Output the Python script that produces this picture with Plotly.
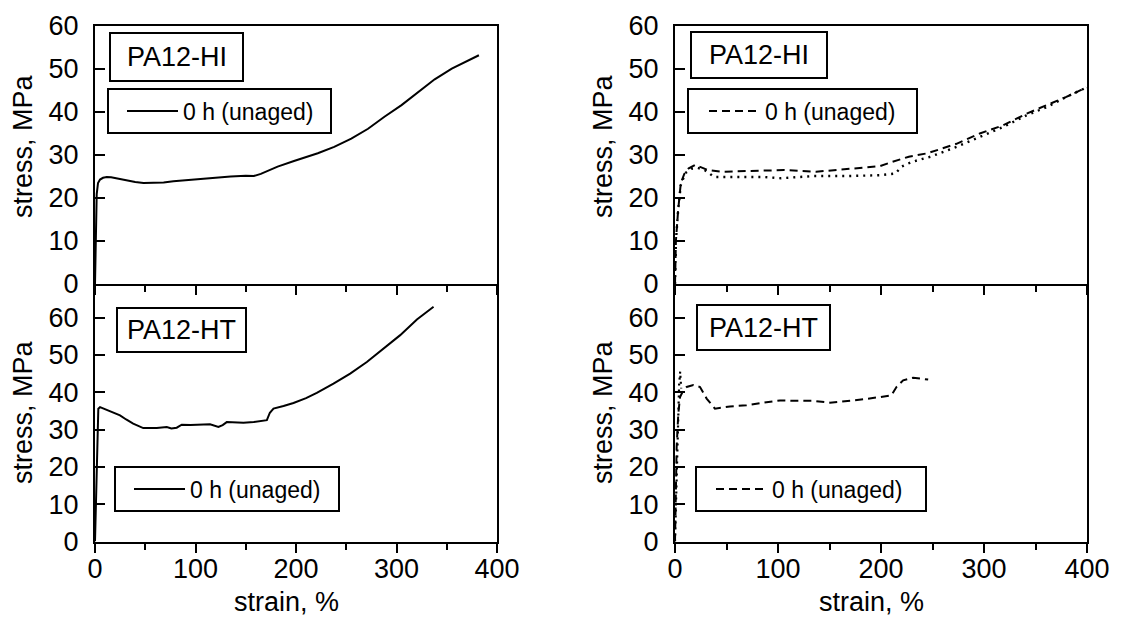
import plotly.graph_objects as go

W, H = 1126, 622
FONT = "Liberation Sans, Arial, sans-serif"

# ---------------- data ----------------
panel_labels = ["PA12-HI", "PA12-HT", "PA12-HI", "PA12-HT"]
series_name = "0 h (unaged)"
x_title = "strain, %"
y_title = "stress, MPa"
x_tickvals = [0, 100, 200, 300, 400]
y_tickvals = [0, 10, 20, 30, 40, 50, 60]

# top-left: PA12-HI, solid
hi_solid_strain = [0, 0.8, 1.7, 3, 5, 8, 11.7, 16, 21.7, 30, 40, 48.3, 58, 68.3, 78, 88.3, 100, 110,
                   121.7, 135, 150, 158, 165, 171.7, 181.7, 198, 210, 221.7, 238, 255, 271.7, 288,
                   305, 321.7, 338, 355, 370, 382]
hi_solid_stress = [0, 10, 20.9, 23.5, 24.3, 24.7, 24.9, 24.8, 24.5, 24.1, 23.7, 23.5, 23.5, 23.6, 23.9,
                   24.1, 24.4, 24.6, 24.8, 25.0, 25.2, 25.1, 25.6, 26.3, 27.3, 28.6, 29.5, 30.4, 31.9,
                   33.8, 36.1, 38.9, 41.6, 44.6, 47.6, 50.1, 51.8, 53.2]

# bottom-left: PA12-HT, solid
ht_solid_strain = [0, 1.5, 3.3, 5, 11.6, 18, 24.9, 31, 38, 48, 55, 61.4, 71.4, 76, 81.3, 86.3, 95,
                   104.6, 114.5, 122.8, 127, 131.1, 140, 147.7, 158, 167.6, 171, 174, 177.6, 187.6,
                   197.5, 210, 220.7, 237.3, 253.9, 270.5, 287.1, 303.7, 320.3, 336.9]
ht_solid_stress = [0, 18, 35.6, 36.0, 35.2, 34.6, 33.8, 32.7, 31.6, 30.4, 30.3, 30.4, 30.7, 30.3,
                   30.5, 31.3, 31.2, 31.3, 31.4, 30.7, 31.2, 32.0, 31.9, 31.8, 32.0, 32.3, 32.5,
                   34.5, 35.6, 36.3, 37.1, 38.4, 39.8, 42.3, 45.0, 48.1, 51.7, 55.3, 59.5, 62.9]

# top-right: PA12-HI, dashed (legend) and dotted
hi_dash_strain = [0, 0.9, 3, 5.6, 9, 13.3, 19.5, 25, 31.9, 45.8, 75, 106, 137, 168, 199, 211, 227,
                  245, 273.3, 295.9, 318.5, 341.1, 360.5, 379.9, 399.4]
hi_dash_stress = [0, 10.1, 17, 23.4, 25.6, 26.9, 27.7, 27.2, 26.5, 26.1, 26.3, 26.5, 26.1, 26.7,
                  27.4, 28.4, 29.6, 30.4, 32.6, 35.0, 36.9, 39.6, 41.6, 43.5, 45.7]
hi_dot_strain = [0, 0.9, 3, 5.6, 10, 16, 22, 28.8, 38, 53.4, 85.7, 103, 134.2, 166.5, 199, 214,
                 220, 230, 248, 273.3, 295.9, 318.5, 341.1, 360.5, 379.9, 399.4]
hi_dot_stress = [0, 10, 17, 23, 25.8, 26.8, 27.0, 26.5, 24.9, 24.9, 24.9, 24.6, 25.1, 25.1, 25.3,
                 25.7, 27.3, 28.4, 29.6, 31.9, 34.2, 36.5, 39.2, 41.1, 43.5, 45.7]

# bottom-right: PA12-HT, dashed (legend) and dotted
ht_dash_strain = [0, 1.6, 3.2, 4.9, 8.1, 11.3, 17.8, 24.3, 30.7, 38.8, 53.4, 69.5, 85.7, 101.9, 118,
                  134.2, 150.4, 166.5, 182.7, 198.9, 210.2, 215, 221.5, 231.2, 237.7, 245.8]
ht_dash_stress = [0, 25.3, 34.3, 38.7, 40.5, 41.4, 41.9, 41.4, 38.3, 35.6, 36.2, 36.5, 37.2, 37.8,
                  37.7, 37.7, 37.2, 37.6, 38.1, 38.7, 39.2, 41.4, 43.2, 43.9, 43.6, 43.4]
ht_dot_strain = [0, 1.0, 2.0, 3.0, 4.0, 5.0, 6.0]
ht_dot_stress = [0, 12, 26, 36, 42, 45.5, 41]

# ---------------- figure ----------------
fig = go.Figure()

LINE_W = 2
fig.add_trace(go.Scatter(x=hi_solid_strain, y=hi_solid_stress, mode="lines", name=series_name,
                         line=dict(color="black", width=LINE_W), xaxis="x", yaxis="y", legend="legend"))
fig.add_trace(go.Scatter(x=ht_solid_strain, y=ht_solid_stress, mode="lines", name=series_name,
                         line=dict(color="black", width=LINE_W), xaxis="x2", yaxis="y2", legend="legend2"))
fig.add_trace(go.Scatter(x=hi_dash_strain, y=hi_dash_stress, mode="lines", name=series_name,
                         line=dict(color="black", width=LINE_W, dash="8px,5px"),
                         xaxis="x3", yaxis="y3", legend="legend3"))
fig.add_trace(go.Scatter(x=hi_dot_strain, y=hi_dot_stress, mode="lines", showlegend=False,
                         line=dict(color="black", width=2.4, dash="2px,5px"), xaxis="x3", yaxis="y3"))
fig.add_trace(go.Scatter(x=ht_dash_strain, y=ht_dash_stress, mode="lines", name=series_name,
                         line=dict(color="black", width=LINE_W, dash="8px,5px"),
                         xaxis="x4", yaxis="y4", legend="legend4"))
fig.add_trace(go.Scatter(x=ht_dot_strain, y=ht_dot_stress, mode="lines", showlegend=False,
                         line=dict(color="black", width=2.2, dash="2px,4px"), xaxis="x4", yaxis="y4"))


def px_x(v):
    return v / W


def px_y(v):
    return 1 - v / H


XL = [px_x(95), px_x(497)]
XR = [px_x(675), px_x(1087)]
YT = [px_y(284), px_y(26)]
YB = [px_y(541.5), px_y(284)]

BIG = 27


def xaxis(domain, anchor, labels):
    return dict(domain=domain, anchor=anchor, range=[0, 400], tickvals=x_tickvals,
                ticks="outside", ticklen=9, tickwidth=2, tickcolor="black",
                minor=dict(dtick=50, tick0=0, ticks="outside", ticklen=6, tickwidth=2, tickcolor="black"),
                showline=True, linewidth=2, linecolor="black", mirror=not labels,
                showgrid=False, zeroline=False, showticklabels=labels, automargin=False,
                ticklabelstandoff=-7,
                tickfont=dict(family=FONT, size=BIG, color="black"))


def yaxis(domain, anchor, top):
    return dict(domain=domain, anchor=anchor, range=[0, top], tickvals=y_tickvals,
                ticks="inside", ticklen=10, tickwidth=2, tickcolor="black",
                showline=True, linewidth=2, linecolor="black", mirror=True,
                showgrid=False, zeroline=False, ticklabelstandoff=9, automargin=False,
                tickfont=dict(family=FONT, size=BIG, color="black"))


shapes = []
annotations = []
# label boxes (px: x0, y0, x1, y1)
label_boxes = [(110, 33, 243, 81), (117, 308, 246, 352), (691, 32, 827, 78), (697, 305, 830, 350)]
legend_boxes = [(108, 89, 331, 133), (115, 467, 339, 511), (688, 89, 917, 133), (696, 467, 926, 511)]
legend_line_start = [126, 133, 708, 715]
for (x0, y0, x1, y1), txt in zip(label_boxes, panel_labels):
    shapes.append(dict(type="rect", xref="paper", yref="paper", x0=px_x(x0), x1=px_x(x1),
                       y0=px_y(y1), y1=px_y(y0), line=dict(color="black", width=2)))
    annotations.append(dict(text=txt, xref="paper", yref="paper", x=px_x((x0 + x1) / 2),
                            y=px_y((y0 + y1) / 2), xanchor="center", yanchor="middle",
                            showarrow=False, font=dict(family=FONT, size=BIG, color="black")))
for (x0, y0, x1, y1) in legend_boxes:
    shapes.append(dict(type="rect", xref="paper", yref="paper", x0=px_x(x0), x1=px_x(x1),
                       y0=px_y(y1), y1=px_y(y0), line=dict(color="black", width=2)))

# axis titles
for cx in (286.5, 871):
    annotations.append(dict(text=x_title, xref="paper", yref="paper", x=px_x(cx), y=px_y(602),
                            xanchor="center", yanchor="middle", showarrow=False,
                            font=dict(family=FONT, size=BIG, color="black")))
for cx, cy in ((23, 146), (23, 412), (603, 146), (603, 412)):
    annotations.append(dict(text=y_title, xref="paper", yref="paper", x=px_x(cx), y=px_y(cy),
                            xanchor="center", yanchor="middle", showarrow=False, textangle=-90,
                            font=dict(family=FONT, size=BIG, color="black")))


def legend(box, line_start):
    x0, y0, x1, y1 = box
    return dict(x=px_x(line_start - 4), y=px_y((y0 + y1) / 2), xanchor="left", yanchor="middle",
                bgcolor="rgba(0,0,0,0)", borderwidth=0, itemwidth=51,
                font=dict(family=FONT, size=23, color="black"))


fig.update_layout(
    width=W, height=H, margin=dict(l=0, r=0, t=0, b=0), autosize=False,
    paper_bgcolor="white", plot_bgcolor="white",
    font=dict(family=FONT, color="black"),
    xaxis=xaxis(XL, "y", False), yaxis=yaxis(YT, "x", 60),
    xaxis2=xaxis(XL, "y2", True), yaxis2=yaxis(YB, "x2", 69),
    xaxis3=xaxis(XR, "y3", False), yaxis3=yaxis(YT, "x3", 60),
    xaxis4=xaxis(XR, "y4", True), yaxis4=yaxis(YB, "x4", 69),
    legend=legend(legend_boxes[0], legend_line_start[0]),
    legend2=legend(legend_boxes[1], legend_line_start[1]),
    legend3=legend(legend_boxes[2], legend_line_start[2]),
    legend4=legend(legend_boxes[3], legend_line_start[3]),
    shapes=shapes, annotations=annotations,
)

fig.write_html("out.html")
